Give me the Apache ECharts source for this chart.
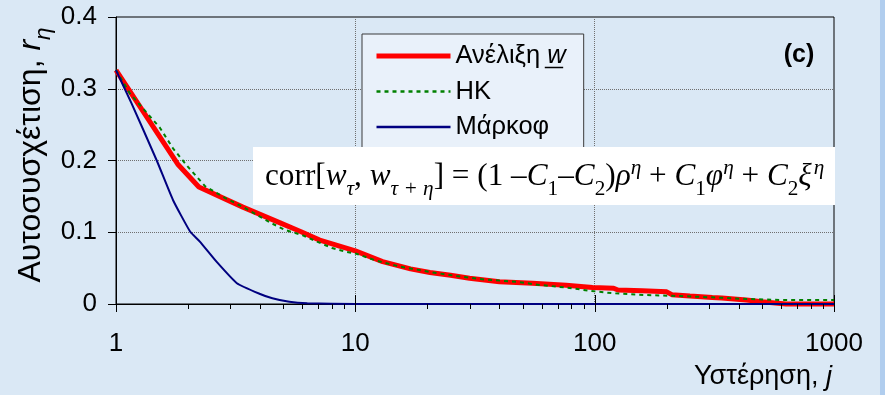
<!DOCTYPE html>
<html><head><meta charset="utf-8">
<script src="https://cdn.jsdelivr.net/npm/echarts@6/dist/echarts.min.js"></script>
<style>html,body{margin:0;padding:0;background:#dae8f5}#c{width:885px;height:395px}</style>
</head><body><div id="c"></div>
<script>
// ---- data ----
const seriesNames = ['Ανέλιξη w', 'HK', 'Μάρκοφ'];
const lagRed = [1, 1.82, 2.22, 3.39, 4.85, 5.9, 7.1, 10, 13, 17, 20.5, 25, 30, 40, 55, 76, 98, 120, 125, 158, 200, 210, 250, 310, 340, 430, 500, 630, 1000];
const valRed = [0.326, 0.194, 0.163, 0.135, 0.113, 0.101, 0.089, 0.074, 0.059, 0.049, 0.044, 0.040, 0.036, 0.031, 0.029, 0.026, 0.023, 0.022, 0.0195, 0.0185, 0.017, 0.013, 0.011, 0.009, 0.0085, 0.0056, 0.003, 0.0, 0.0];
const lagHK = [1, 1.14, 1.53, 1.73, 2.0, 2.36, 2.85, 3.4, 4.5, 5.1, 6.0, 6.9, 8.0, 9.1, 10.1, 12.1, 15.4, 18, 21, 26.5, 35, 47, 59, 76, 95, 119, 164, 228, 310, 430, 595, 1000];
const valHK = [0.326, 0.294, 0.245, 0.217, 0.191, 0.164, 0.148, 0.135, 0.112, 0.103, 0.096, 0.087, 0.078, 0.073, 0.070, 0.061, 0.052, 0.048, 0.044, 0.039, 0.034, 0.031, 0.0265, 0.023, 0.0185, 0.015, 0.0125, 0.011, 0.0093, 0.007, 0.0056, 0.0056];
const lagMarkov = [1, 1.16, 1.48, 1.73, 2.04, 2.24, 2.63, 3.2, 4.0, 4.5, 5.3, 6.3, 10, 100, 1000];
const valMarkov = [0.326, 0.28, 0.2, 0.145, 0.101, 0.087, 0.059, 0.029, 0.014, 0.008, 0.003, 0.001, 0, 0, 0];
const xMajorTicks = [1, 10, 100, 1000];
const xMinorTicks = [2, 3, 4, 5, 6, 7, 8, 9, 20, 30, 40, 50, 60, 70, 80, 90, 200, 300, 400, 500, 600, 700, 800, 900];
const yMin = 0, yMax = 0.4, yStep = 0.1;

// ---- helpers ----
const SANS = "'Liberation Sans', Arial, sans-serif";
const SERIF = "'Liberation Serif', 'Times New Roman', serif";
const cv = document.createElement('canvas').getContext('2d');
function mw(t, size, fam, italic, bold) {
  cv.font = (italic ? 'italic ' : '') + (bold ? 'bold ' : '') + size + 'px ' + fam;
  return cv.measureText(t).width;
}
function layout(segs, size, fam, subScale) {
  const out = []; let x = 0;
  segs.forEach(s => {
    const sz = (s.sub || s.sup) ? size * subScale : size;
    const w = mw(s.t, sz, fam, s.it);
    let base = 0.35 * size;
    if (s.sub) base += 0.28 * size;
    if (s.sup) base -= 0.40 * size;
    out.push({ t: s.t, x: x, y: base - 0.35 * sz, size: sz, it: !!s.it });
    x += w + (s.gap || 0);
  });
  return { items: out, width: x };
}
function toChildren(lay, fam, offX, z) {
  return lay.items.map(it => ({
    type: 'text', x: it.x + offX, y: it.y, z: z, silent: true,
    style: { text: it.t, fontSize: it.size, fontFamily: fam, fontStyle: it.it ? 'italic' : 'normal',
      fill: '#000', align: 'left', verticalAlign: 'middle' }
  }));
}

const formulaSegs = [
  { t: 'corr[' }, { t: 'w', it: true }, { t: 'τ', it: true, sub: true }, { t: ', ' },
  { t: 'w', it: true }, { t: 'τ + η', it: true, sub: true }, { t: '] = (1 \u2013' },
  { t: 'C', it: true }, { t: '1', sub: true }, { t: '\u2013' }, { t: 'C', it: true }, { t: '2', sub: true },
  { t: ')' }, { t: 'ρ', it: true }, { t: 'η', it: true, sup: true }, { t: ' + ' },
  { t: 'C', it: true }, { t: '1', sub: true }, { t: 'φ', it: true }, { t: 'η', it: true, sup: true }, { t: ' + ' },
  { t: 'C', it: true }, { t: '2', sub: true }, { t: 'ξ', it: true, gap: 2 }, { t: 'η', it: true, sup: true }
];
let fSize = 25;
let fl = layout(formulaSegs, fSize, SERIF, 0.68);
fSize = fSize * 560 / fl.width;
fl = layout(formulaSegs, fSize, SERIF, 0.68);

const ySegs = [{ t: 'Αυτοσυσχέτιση, ' }, { t: 'r', it: true }, { t: 'η', it: true, sub: true }];
const yl = layout(ySegs, 32, SANS, 0.7);
const xSegs = [{ t: 'Υστέρηση, ' }, { t: 'j', it: true }];
const xl = layout(xSegs, 27, SANS, 0.7);

const legendFont = 25.5;
const legX = 362, legPadL = 12, legItemW = 74;
const legTextX = legX + legPadL + legItemW + 5;
const wA = mw('Ανέλιξη ', legendFont, SANS, false);
const wW = mw('w', legendFont, SANS, true);

const chart = echarts.init(document.getElementById('c'), null, { renderer: 'canvas' });
const zip = (a, b) => a.map((v, i) => [v, b[i]]);

const option = {
  backgroundColor: '#dae8f5',
  animation: false,
  grid: { left: 116, right: 51, top: 17, bottom: 91, show: true, borderColor: '#000', borderWidth: 1, backgroundColor: 'transparent' },
  xAxis: {
    type: 'log', logBase: 10, min: 1, max: 1000,
    axisLine: { lineStyle: { color: '#000', width: 1 } },
    axisTick: { show: false },
    axisLabel: { color: '#000', fontSize: 26, fontFamily: SANS, margin: 27, formatter: v => String(Math.round(v)) },
    splitLine: { show: true, showMinLine: false, showMaxLine: false, lineStyle: { color: '#6f6f6f', type: 'dotted', width: 1 } },
    minorTick: { show: false }
  },
  yAxis: {
    type: 'value', min: yMin, max: yMax, interval: yStep,
    axisLine: { show: true, lineStyle: { color: '#000', width: 1 } },
    axisTick: { show: true, length: 8, lineStyle: { color: '#000' } },
    axisLabel: { color: '#000', fontSize: 26, fontFamily: SANS, margin: 19,
      formatter: v => v === 0 ? '0' : v.toFixed(1) },
    splitLine: { show: true, showMinLine: false, showMaxLine: false, lineStyle: { color: '#6f6f6f', type: 'dotted', width: 1 } }
  },
  legend: {
    data: [
      { name: seriesNames[0], lineStyle: { width: 5, color: '#ff0000' } },
      { name: seriesNames[1], lineStyle: { width: 2.5, color: '#008000', type: [4, 4] } },
      { name: seriesNames[2], lineStyle: { width: 2.5, color: '#000080' } }
    ],
    orient: 'vertical', left: legX, top: 34,
    padding: [9, 18, 24, legPadL], itemWidth: legItemW, itemHeight: 14, itemGap: 9.5,
    backgroundColor: '#e9f1fa', borderColor: '#3a3a3a', borderWidth: 1, z: 5,
    itemStyle: { opacity: 0 },
    textStyle: { fontSize: legendFont, fontFamily: SANS, color: '#000', lineHeight: 25,
      rich: { a: { fontSize: legendFont, fontFamily: SANS, color: '#000' }, w: { fontSize: legendFont, fontFamily: SANS, fontStyle: 'italic', color: '#000' } } },
    formatter: n => n === seriesNames[0] ? '{a|Ανέλιξη }{w|w}' : n,
    selectedMode: false
  },
  series: [
    { name: seriesNames[0], type: 'line', data: zip(lagRed, valRed), symbol: 'none', clip: false,
      lineStyle: { color: '#ff0000', width: 5 }, itemStyle: { color: '#ff0000' }, z: 3 },
    { name: seriesNames[1], type: 'line', data: zip(lagHK, valHK), symbol: 'none', clip: false,
      lineStyle: { color: '#008000', width: 2, type: [4, 4] }, itemStyle: { color: '#008000' }, z: 4 },
    { name: seriesNames[2], type: 'line', data: zip(lagMarkov, valMarkov), symbol: 'none', clip: false, smooth: 0.15,
      lineStyle: { color: '#000080', width: 2 }, itemStyle: { color: '#000080' }, z: 5 },
    { name: 'minorTicks', type: 'custom', data: xMinorTicks.map(v => [v, 0]), silent: true, z: 6,
      renderItem: (p, api) => { const c = api.coord([api.value(0), 0]); const x = Math.round(c[0]) + 0.5;
        return { type: 'line', shape: { x1: x, y1: c[1], x2: x, y2: c[1] + 5 }, style: { stroke: '#000', lineWidth: 1 } }; } },
    { name: 'majorTicks', type: 'custom', data: xMajorTicks.map(v => [v, 0]), silent: true, z: 6,
      renderItem: (p, api) => { const c = api.coord([api.value(0), 0]); const x = Math.round(c[0]) + 0.5;
        return { type: 'line', shape: { x1: x, y1: c[1] - 9, x2: x, y2: c[1] + 8 }, style: { stroke: '#000', lineWidth: 1 } }; } }
  ],
  graphic: [
    { type: 'rect', left: 880, top: 0, shape: { width: 5, height: 395 }, style: { fill: '#b0cdee' }, z: 0, silent: true },
    { type: 'rect', x: 253, y: 147, shape: { width: 582, height: 58 }, style: { fill: '#ffffff' }, z: 50, silent: true },
    { type: 'group', x: 265, y: 177, z: 51, children: toChildren(fl, SERIF, 0, 51) },
    { type: 'group', x: 31, y: 155, rotation: Math.PI / 2, z: 51, children: toChildren(yl, SANS, -yl.width / 2, 51) },
    { type: 'group', x: 832 - xl.width, y: 377, z: 51, children: toChildren(xl, SANS, 0, 51) },
    { type: 'text', x: 799, y: 55, z: 51, style: { text: '(c)', fontSize: 25, fontWeight: 'bold', fontFamily: SANS, fill: '#000', align: 'center', verticalAlign: 'middle' } },
    { type: 'line', z: 51, shape: { x1: legTextX + wA, y1: 67.5, x2: legTextX + wA + wW, y2: 67.5 }, style: { stroke: '#000', lineWidth: 1.5 } }
  ]
};
chart.setOption(option);
</script></body></html>
